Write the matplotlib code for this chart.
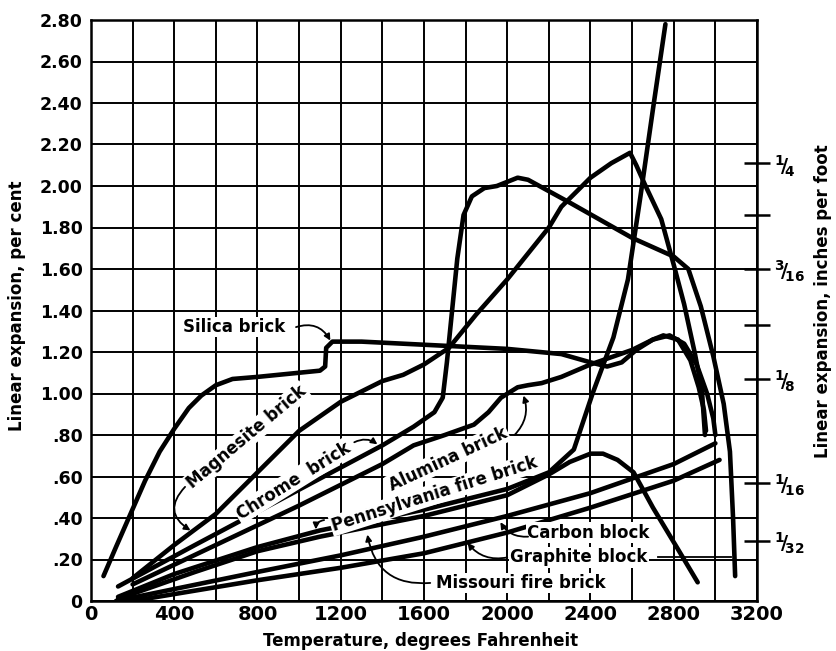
import matplotlib.pyplot as plt
import numpy as np

# temperature (deg F) / linear expansion (%)
silica_t = [60, 120, 190, 260, 330, 400, 470, 530, 600, 680, 800, 1000, 1100, 1125, 1130, 1160,
            1300, 1600, 2000, 2260, 2400, 2480, 2550, 2620, 2700, 2750, 2820, 2880, 2920, 2945, 2955]
silica_e = [0.12, 0.26, 0.42, 0.58, 0.72, 0.83, 0.93, 0.99, 1.04, 1.07, 1.08, 1.10, 1.11, 1.13, 1.22, 1.25,
            1.25, 1.235, 1.215, 1.19, 1.15, 1.13, 1.15, 1.21, 1.26, 1.28, 1.26, 1.16, 1.03, 0.92, 0.82]

magnesite_t = [200, 400, 600, 800, 1000, 1200, 1400, 1500, 1600, 1720, 1850, 2000, 2200, 2260, 2400,
               2500, 2590, 2620, 2660, 2740, 2800, 2850, 2900, 2935, 2950]
magnesite_e = [0.11, 0.27, 0.42, 0.62, 0.82, 0.96, 1.06, 1.09, 1.14, 1.22, 1.38, 1.55, 1.80, 1.90, 2.04,
               2.11, 2.16, 2.10, 2.01, 1.84, 1.62, 1.43, 1.20, 1.02, 0.80]

chrome_t = [130, 500, 800, 1100, 1400, 1550, 1650, 1690, 1710, 1730, 1760, 1790, 1830, 1890, 1950,
            2050, 2100, 2300, 2600, 2800, 2870, 2930, 2990, 3040, 3070, 3085, 3095]
chrome_e = [0.07, 0.27, 0.43, 0.59, 0.75, 0.84, 0.91, 0.98, 1.15, 1.35, 1.65, 1.86, 1.95, 1.99, 2.00,
            2.04, 2.03, 1.92, 1.75, 1.66, 1.60, 1.42, 1.18, 0.95, 0.72, 0.40, 0.12]

alumina_t = [200, 600, 1000, 1400, 1550, 1700, 1840, 1910, 1970, 2050, 2100, 2165, 2260, 2400, 2600,
             2700, 2780, 2850, 2910, 2960, 2990, 3000]
alumina_e = [0.08, 0.27, 0.46, 0.66, 0.75, 0.80, 0.85, 0.91, 0.98, 1.03, 1.04, 1.05, 1.08, 1.14, 1.21,
             1.26, 1.28, 1.24, 1.14, 1.00, 0.88, 0.80]

penn_t = [130, 400, 800, 1100, 1400, 1600, 1800, 2000, 2200, 2320, 2410, 2510, 2580, 2640, 2700, 2760]
penn_e = [0.02, 0.13, 0.26, 0.34, 0.40, 0.44, 0.49, 0.54, 0.62, 0.73, 1.00, 1.27, 1.55, 1.95, 2.37, 2.78]

missouri_t = [130, 500, 800, 1100, 1400, 1600, 1800, 2000, 2200, 2300, 2400, 2460, 2530, 2607, 2700,
              2820, 2915]
missouri_e = [0.01, 0.14, 0.24, 0.31, 0.37, 0.41, 0.46, 0.51, 0.61, 0.67, 0.71, 0.71, 0.68, 0.62, 0.45,
              0.25, 0.09]

carbon_t = [120, 800, 1200, 1600, 2000, 2400, 2800, 3000]
carbon_e = [0.0, 0.14, 0.22, 0.31, 0.41, 0.52, 0.66, 0.76]

graphite_t = [200, 800, 1200, 1600, 2000, 2400, 2800, 3020]
graphite_e = [0.0, 0.10, 0.16, 0.23, 0.33, 0.45, 0.58, 0.68]

x_ticks = [0, 400, 800, 1200, 1600, 2000, 2400, 2800, 3200]
y_ticks = [0, 0.2, 0.4, 0.6, 0.8, 1.0, 1.2, 1.4, 1.6, 1.8, 2.0, 2.2, 2.4, 2.6, 2.8]
y_labels = ['0', '.20', '.40', '.60', '.80', '1.00', '1.20', '1.40', '1.60', '1.80',
            '2.00', '2.20', '2.40', '2.60', '2.80']

# right hand scale, inches per foot (positions as drawn)
inch_pos = [2.11, 1.86, 1.60, 1.33, 1.07, 0.57, 0.29]
inch_labels = [r'$\mathbf{{}^{1}\!/\!_{4}}$', '', r'$\mathbf{{}^{3}\!/\!_{16}}$', '',
               r'$\mathbf{{}^{1}\!/\!_{8}}$', r'$\mathbf{{}^{1}\!/\!_{16}}$', r'$\mathbf{{}^{1}\!/\!_{32}}$']

plt.rcParams['font.family'] = 'DejaVu Sans'
plt.rcParams['font.weight'] = 'bold'

fig = plt.figure(figsize=(8.37, 6.51), dpi=100)
ax = fig.add_axes([91 / 837, 50 / 651, 666 / 837, 581 / 651])

ax.set_xlim(0, 3200)
ax.set_ylim(0, 2.8)
ax.set_xticks(np.arange(0, 3201, 200), minor=True)
ax.set_xticks(x_ticks)
ax.set_xticklabels([str(t) for t in x_ticks], fontsize=14, fontweight='bold')
ax.set_yticks(y_ticks)
ax.set_yticklabels(y_labels, fontsize=12.5, fontweight='bold')
ax.tick_params(axis='both', which='both', length=0)
ax.tick_params(axis='x', pad=3)
ax.tick_params(axis='y', pad=6)
ax.grid(True, which='both', color='black', linewidth=1.4)
ax.set_axisbelow(True)
for s in ax.spines.values():
    s.set_linewidth(1.8)

curve_kw = dict(color='black', linewidth=3.3, solid_joinstyle='round', solid_capstyle='round', zorder=3)
ax.plot(silica_t, silica_e, **curve_kw)
ax.plot(magnesite_t, magnesite_e, **curve_kw)
ax.plot(chrome_t, chrome_e, **curve_kw)
ax.plot(alumina_t, alumina_e, **curve_kw)
ax.plot(penn_t, penn_e, **curve_kw)
ax.plot(missouri_t, missouri_e, **curve_kw)
ax.plot(carbon_t, carbon_e, **curve_kw)
ax.plot(graphite_t, graphite_e, **curve_kw)

# right axis
ax2 = ax.twinx()
ax2.set_ylim(0, 2.8)
ax2.set_yticks(inch_pos)
ax2.set_yticklabels(inch_labels, fontsize=14)
ax2.tick_params(axis='y', direction='inout', length=19, width=1.8, pad=3)
for s in ax2.spines.values():
    s.set_visible(False)

# curve labels
box = dict(facecolor='white', edgecolor='none', pad=1.0)
lab_kw = dict(fontsize=12, fontweight='bold', ha='center', va='center', bbox=box, zorder=4)
ax.text(688, 1.32, 'Silica brick', **lab_kw)
ax.text(750, 0.79, 'Magnesite brick', rotation=40, rotation_mode='anchor', **lab_kw)
ax.text(972, 0.58, 'Chrome  brick', rotation=32, rotation_mode='anchor', **lab_kw)
ax.text(1715, 0.685, 'Alumina brick', rotation=25, rotation_mode='anchor', **lab_kw)
ax.text(1650, 0.515, 'Pennsylvania fire brick', rotation=17.5, rotation_mode='anchor', **lab_kw)
ax.text(2391, 0.33, 'Carbon block', **lab_kw)
ax.text(2343, 0.21, 'Graphite block', **lab_kw)
ax.text(2064, 0.087, 'Missouri fire brick', **lab_kw)

arr = dict(arrowstyle='-|>', color='black', lw=1.3, mutation_scale=9, shrinkA=0, shrinkB=0)
def pointer(start, end, rad):
    ax.annotate('', xy=end, xytext=start, zorder=5,
                arrowprops=dict(connectionstyle=f'arc3,rad={rad}', **arr))

pointer((985, 1.32), (1150, 1.255), -0.4)
pointer((452, 0.55), (478, 0.34), 0.6)
pointer((1265, 0.765), (1376, 0.755), -0.3)
pointer((2035, 0.80), (2078, 0.99), 0.3)
pointer((1120, 0.39), (1080, 0.345), 0.4)
pointer((2100, 0.31), (1967, 0.38), -0.3)
pointer((2000, 0.21), (1809, 0.28), -0.3)
pointer((1630, 0.087), (1328, 0.32), -0.45)
ax.plot([2725, 3074], [0.21, 0.21], color='black', linewidth=1.3, zorder=3)

fig.text(421 / 837, 10 / 651, 'Temperature, degrees Fahrenheit', fontsize=12, fontweight='bold',
         ha='center', va='center')
fig.text(17 / 837, 345 / 651, 'Linear expansion, per cent', fontsize=12, fontweight='bold',
         rotation=90, ha='center', va='center')
fig.text(823 / 837, 350 / 651, 'Linear expansion, inches per foot', fontsize=12, fontweight='bold',
         rotation=90, ha='center', va='center')

fig.savefig('out.png', dpi=100)
